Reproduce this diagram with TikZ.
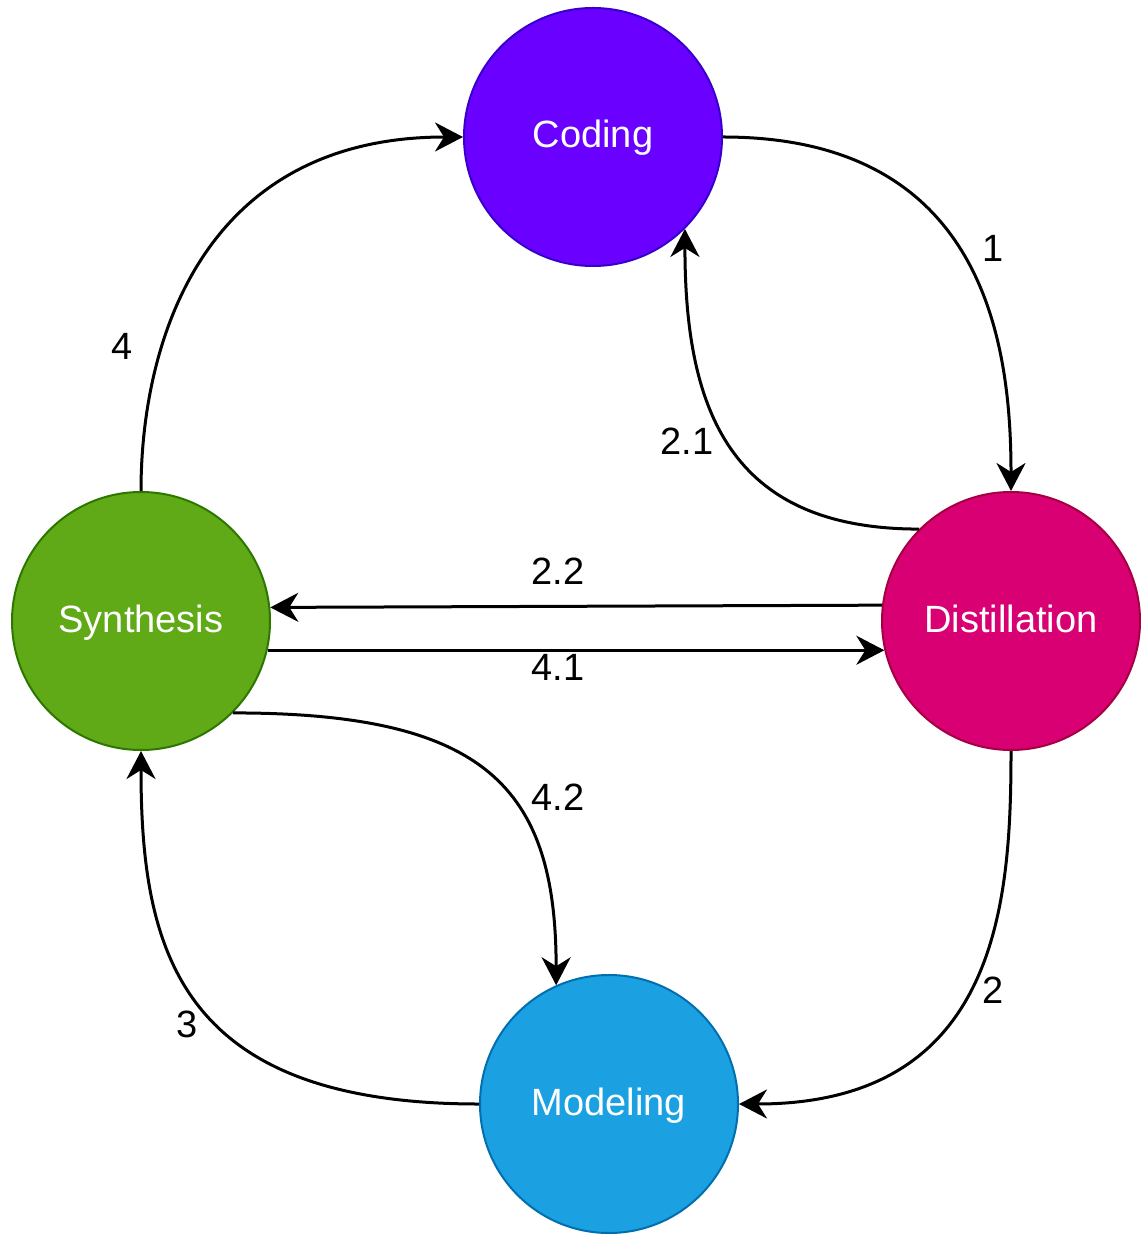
\documentclass[tikz,border=0pt]{standalone}
\usepackage{fontspec}
\setmainfont{Liberation Sans}
\usetikzlibrary{arrows.meta}

\definecolor{codfill}{HTML}{6A00FF}\definecolor{codline}{HTML}{3700CC}
\definecolor{disfill}{HTML}{D80073}\definecolor{disline}{HTML}{A50040}
\definecolor{synfill}{HTML}{60A917}\definecolor{synline}{HTML}{2D7600}
\definecolor{modfill}{HTML}{1BA1E2}\definecolor{modline}{HTML}{006EAF}

\tikzset{
  stage/.style={circle, minimum size=129pt, inner sep=0pt, line width=1pt,
    text=white, font=\fontsize{19}{23}\selectfont,
    text height=14pt, text depth=3pt},
  flow/.style={line width=1.5pt, -{Stealth[length=14pt, width=14.5pt, inset=4.5pt]}},
  tag/.style={font=\fontsize{19}{23}\selectfont, inner sep=0pt}
}

\begin{document}
\begin{tikzpicture}[x=0.5pt, y=-0.5pt]
  \useasboundingbox (0,0) rectangle (1140,1234);

  % stages
  \node[stage, fill=codfill, draw=codline] (cod) at (593,137) {Coding};
  \node[stage, fill=disfill, draw=disline] (dis) at (1011,621) {Distillation};
  \node[stage, fill=synfill, draw=synline] (syn) at (141,621) {Synthesis};
  \node[stage, fill=modfill, draw=modline] (mod) at (609,1104) {Modeling};

  % transitions
  \draw[flow] (cod.east) .. controls +(260,0) and +(0,-150) .. (dis.north);
  \draw[flow] (dis.135) .. controls +(-190,0) and +(0,180) .. (cod.-45);
  \draw[flow] (dis.173.8) -- (syn.6.2);
  \draw[flow] (syn.-13.3) -- (dis.193.3);
  \draw[flow] (syn.-45) .. controls +(250,0) and +(0,-200) .. (mod.114);
  \draw[flow] (dis.south) .. controls +(0,150) and +(260,0) .. (mod.east);
  \draw[flow] (mod.west) .. controls +(-300,0) and +(0,200) .. (syn.south);
  \draw[flow] (syn.north) .. controls +(0,-150) and +(-260,0) .. (cod.west);

  % step numbers
  \node[tag] (t1)  at (993,248)  {1};
  \node[tag] (t21) at (687,441)  {2.1};
  \node[tag] (t22) at (558,571)  {2.2};
  \node[tag] (t41) at (558,667)  {4.1};
  \node[tag] (t42) at (558,797)  {4.2};
  \node[tag] (t2)  at (993,990)  {2};
  \node[tag] (t3)  at (187,1024) {3};
  \node[tag] (t4)  at (122,346)  {4};
\end{tikzpicture}
\end{document}
